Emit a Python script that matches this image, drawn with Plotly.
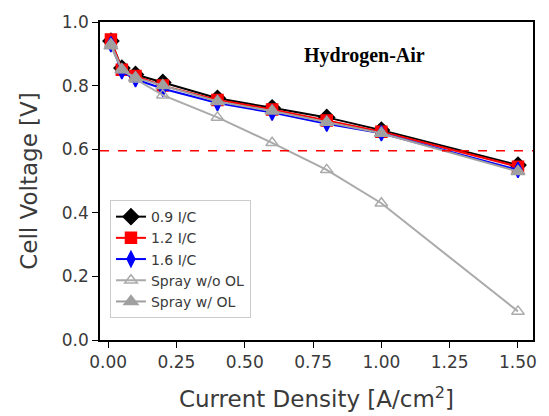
import plotly.graph_objects as go

current = [0.01, 0.05, 0.1, 0.2, 0.4, 0.6, 0.8, 1.0, 1.5]
v_09 = [0.94, 0.855, 0.835, 0.81, 0.76, 0.73, 0.70, 0.66, 0.55]
v_12 = [0.945, 0.85, 0.83, 0.80, 0.755, 0.725, 0.69, 0.655, 0.545]
v_16 = [0.93, 0.845, 0.82, 0.79, 0.745, 0.715, 0.68, 0.65, 0.535]
v_wo = [0.93, 0.85, 0.82, 0.77, 0.70, 0.62, 0.535, 0.43, 0.09]
v_w = [0.925, 0.85, 0.825, 0.80, 0.75, 0.72, 0.685, 0.65, 0.53]
ref_v = 0.595

series = [
    ("0.9 I/C", v_09, "black", "diamond", "black", 12),
    ("1.2 I/C", v_12, "red", "square", "red", 11),
    ("1.6 I/C", v_16, "blue", "diamond-tall", "blue", 11),
    ("Spray w/o OL", v_wo, "#aaaaaa", "triangle-up-open", "#aaaaaa", 11),
    ("Spray w/ OL", v_w, "#a0a0a0", "triangle-up", "#a0a0a0", 12),
]

fig = go.Figure()
for name, y, col, sym, mcol, ms in series:
    fig.add_trace(go.Scatter(
        x=current, y=y, name=name, mode="lines+markers",
        line=dict(color=col, width=2),
        marker=dict(symbol=sym, size=ms, color=mcol, line=dict(color=mcol, width=1.5)),
    ))

fig.add_shape(type="line", xref="paper", x0=0, x1=1, yref="y", y0=ref_v, y1=ref_v,
              line=dict(color="red", width=1.5, dash="dash"))

fig.add_annotation(text="<b>Hydrogen-Air</b>", x=0.94, y=0.896, xref="x", yref="y",
                   showarrow=False, font=dict(family="Liberation Serif", size=20, color="black"))

fig.update_layout(
    width=549, height=416,
    margin=dict(l=100, r=16, t=22, b=76),
    plot_bgcolor="white", paper_bgcolor="white",
    font=dict(family="DejaVu Sans", color="#3a3a3a", size=17),
    showlegend=True,
    legend=dict(x=0.023, y=0.069, xanchor="left", yanchor="bottom",
                bgcolor="rgba(255,255,255,0.9)", bordercolor="#cccccc", borderwidth=1,
                font=dict(size=14), tracegroupgap=0, itemwidth=30),
    xaxis=dict(range=[-0.03, 1.555], tickvals=[0, 0.25, 0.5, 0.75, 1.0, 1.25, 1.5],
               ticktext=["0.00", "0.25", "0.50", "0.75", "1.00", "1.25", "1.50"],
               showgrid=False, zeroline=False, showline=True, linecolor="black", linewidth=1.5,
               mirror=True, ticks="outside", ticklen=6, tickcolor="black", automargin=False,
               title=dict(text="Current Density [A/cm<sup>2</sup>]", font=dict(size=23), standoff=20)),
    yaxis=dict(range=[0, 1.0], tickvals=[0, 0.2, 0.4, 0.6, 0.8, 1.0],
               ticktext=["0.0", "0.2", "0.4", "0.6", "0.8", "1.0"],
               showgrid=False, zeroline=False, showline=True, linecolor="black", linewidth=1.5,
               mirror=True, ticks="outside", ticklen=6, tickcolor="black", automargin=False,
               title=dict(text="Cell Voltage [V]", font=dict(size=23), standoff=18)),
)

fig.write_html("out.html")
